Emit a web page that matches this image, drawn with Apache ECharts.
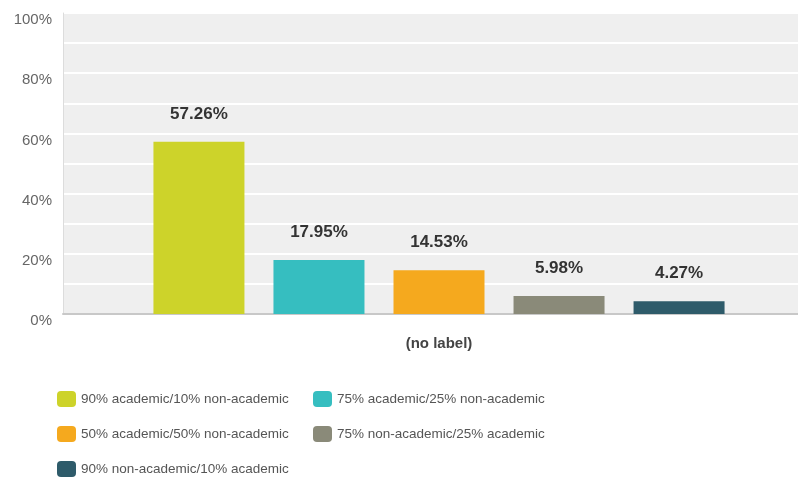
<!DOCTYPE html>
<html><head><meta charset="utf-8">
<script src="https://cdn.jsdelivr.net/npm/echarts@6/dist/echarts.min.js"></script>
<style>html,body{margin:0;padding:0;background:#fff;}#c{width:798px;height:478px;}</style>
</head><body><div id="c"></div>
<script>
const categories = ['(no label)'];
const seriesNames = [
  '90% academic/10% non-academic',
  '75% academic/25% non-academic',
  '50% academic/50% non-academic',
  '75% non-academic/25% academic',
  '90% non-academic/10% academic'
];
const seriesValues = [57.26, 17.95, 14.53, 5.98, 4.27];
const seriesColors = ['#cdd32a', '#36bec0', '#f5a91e', '#8a8a79', '#2e5b6a'];
const yTicks = [0, 20, 40, 60, 80, 100];

const chart = echarts.init(document.getElementById('c'));
const series = seriesNames.map((n, i) => ({
  name: n,
  type: 'bar',
  data: [seriesValues[i]],
  barWidth: 91,
  barGap: '31.9%',
  itemStyle: { color: seriesColors[i] },
  label: {
    show: true, position: 'top', distance: 19,
    formatter: p => p.value.toFixed(2) + '%',
    fontFamily: 'Liberation Sans', fontWeight: 'bold', fontSize: 17, color: '#333'
  }
}));
const legendText = { fontFamily: 'Liberation Sans', fontSize: 13.5, color: '#555' };
chart.setOption({
  animation: false,
  grid: { left: 63, width: 752, top: 13, bottom: 164, outerBoundsMode: 'none', show: true, backgroundColor: '#efefef', borderWidth: 0 },
  xAxis: {
    type: 'category', data: categories,
    axisLine: { lineStyle: { color: '#c8c8c8', width: 2 } },
    axisTick: { show: false },
    axisLabel: { margin: 22, fontFamily: 'Liberation Sans', fontWeight: 'bold', fontSize: 15, color: '#444' }
  },
  yAxis: {
    type: 'value', min: 0, max: 100, interval: 10,
    axisLine: { show: true, lineStyle: { color: '#dcdcdc' } },
    axisTick: { show: false },
    splitLine: { lineStyle: { color: '#ffffff', width: 2 } },
    axisLabel: {
      margin: 11, verticalAlign: 'top', lineHeight: 14,
      fontFamily: 'Liberation Sans', fontSize: 15, color: '#666',
      formatter: v => yTicks.includes(v) ? v + '%' : ''
    }
  },
  legend: [
    { data: [seriesNames[0], seriesNames[2], seriesNames[4]], orient: 'horizontal', left: 52, top: 386, width: 200,
      itemWidth: 19, itemHeight: 16, itemGap: 19, icon: 'roundRect', textStyle: legendText },
    { data: [seriesNames[1], seriesNames[3]], orient: 'horizontal', left: 308, top: 386, width: 200,
      itemWidth: 19, itemHeight: 16, itemGap: 19, icon: 'roundRect', textStyle: legendText }
  ],
  series: series
});
</script></body></html>
